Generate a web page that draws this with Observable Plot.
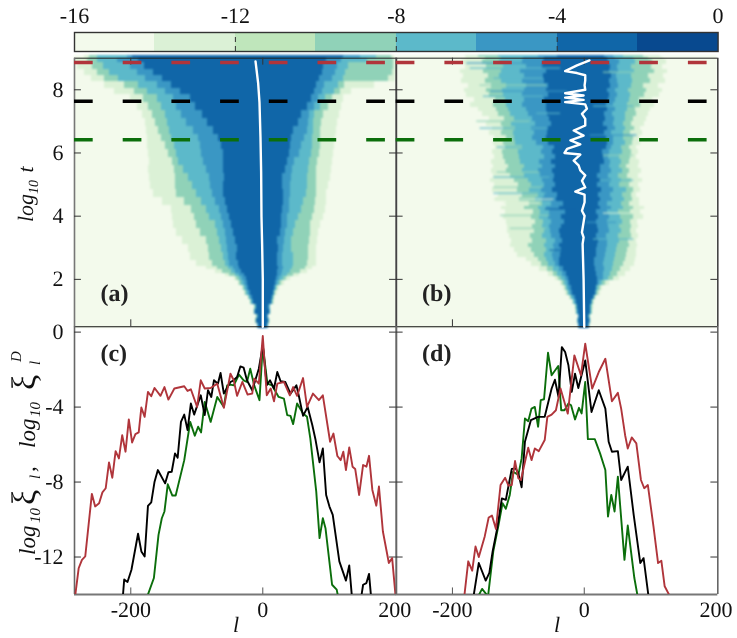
<!DOCTYPE html>
<html><head><meta charset="utf-8">
<script src="https://cdn.jsdelivr.net/npm/d3@7"></script>
<script src="https://cdn.jsdelivr.net/npm/@observablehq/plot@0.6"></script>
<style>
html,body{margin:0;padding:0;background:#fff}
#chart{position:relative;width:737px;height:638px;overflow:hidden;filter:blur(.3px)}
#chart svg{position:absolute;left:0;top:0;background:transparent!important;text-rendering:geometricPrecision}
</style></head><body><div id="chart"></div>
<script>
const FONT = "Liberation Serif";
const binEdges = [-16,-14,-12,-10,-8,-6,-4,-2,0];
const binColors = ["#f3faec","#dbf1d6","#bfe6bb","#90d2b8","#5cb9ca","#3a97c4","#1066a8","#08498f"];
const bandValues = [-13,-9,-7,-5,-3];
const barTicks = [-16,-12,-8,-4,0];
const logTTicks = [2,4,6,8];
const xiTicks = [0,-4,-8,-12];
const lTicks = [-200,0,200];
const cutTimes = [8.86,7.64,6.42];
const cutColors = ["#b0353b","#000000","#0b6e0b"];

// Panel (a): row start log t; edges at each band boundary, left then right, in l
const aLogT = [.44,.6,.75,.9,1.05,1.2,1.35,1.5,1.65,1.8,1.95,2.1,2.2,2.3,2.4,2.6,2.85,3.1,3.35,3.6,3.85,4.1,4.35,4.6,4.85,5.1,5.35,5.6,5.85,6.1,6.35,6.6,6.85,7.1,7.35,7.6,7.85,8.05,8.25,8.45,8.65,8.85,9.0,9.085];
const aEdges = [
[-8,-8,-8,-7,-7,7,7,8,8,8],[-11,-11,-10,-10,-9,9,9,10,10,11],[-9,-9,-8,-8,-7,7,8,8,9,9],
[-14,-13,-13,-12,-11,10,11,11,12,13],[-12,-12,-11,-10,-9,9,10,11,11,12],[-19,-18,-17,-16,-14,13,14,15,16,17],
[-22,-21,-20,-18,-16,14,15,16,17,18],[-27,-26,-24,-22,-19,16,17,18,20,22],[-31,-29,-27,-25,-21,17,19,21,23,26],
[-37,-35,-32,-28,-23,19,22,25,29,33],[-43,-40,-36,-31,-25,21,26,31,36,42],[-56,-50,-42,-36,-28,22,28,37,46,56],
[-72,-61,-47,-41,-32,23,30,42,57,68],[-85,-68,-52,-45,-35,24,31,45,64,76],[-101,-76,-57,-50,-37,23,30,47,68,81],
[-109,-80,-60,-52,-40,22,30,46,70,82],[-113,-82,-62,-53,-38,24,31,43,69,82],[-121,-85,-66,-55,-41,23,33,43,71,83],
[-130,-94,-68,-57,-45,27,35,46,72,84],[-136,-100,-71,-60,-47,29,38,49,73,87],[-137,-104,-80,-63,-50,29,38,54,76,92],
[-139,-108,-86,-66,-53,30,40,58,78,95],[-152,-118,-93,-71,-57,31,41,62,80,97],[-165,-130,-101,-76,-59,31,42,66,82,97],
[-170,-132,-106,-79,-60,30,42,67,82,100],[-171,-133,-112,-81,-58,30,43,67,82,103],[-173,-134,-120,-85,-59,34,45,69,82,104],
[-172,-137,-127,-90,-60,38,48,71,83,105],[-173,-143,-131,-93,-59,41,55,74,86,107],[-174,-148,-134,-95,-62,42,58,75,87,108],
[-174,-153,-139,-97,-67,44,63,76,87,110],[-176,-158,-141,-105,-74,47,67,77,88,111],[-178,-162,-144,-115,-84,54,69,77,89,113],
[-183,-167,-147,-123,-92,59,71,79,92,116],[-190,-173,-153,-130,-102,68,78,87,99,119],[-200,-180,-160,-136,-110,74,84,95,105,122],
[-225,-195,-175,-148,-125,78,90,108,118,135],[-240,-210,-188,-160,-138,81,93,114,124,170],[-259,-240,-218,-178,-152,86,106,122,190,201],
[-270,-250,-232,-190,-166,90,110,126,197,202],[-280,-258,-242,-200,-179,92,113,130,198,202],[-284,-266,-250,-220,-188,97,120,158,198,202],
[-270,-262,-250,-205,-198,123,148,173,195,200]];

// Panel (b)
const bLogT = [.44,.6,.75,.9,1.05,1.2,1.35,1.5,1.65,1.8,1.95,2.1,2.25,2.4,2.55,2.7,2.85,3.0,3.15,3.3,3.45,3.6,3.75,3.9,4.05,4.2,4.3,4.45,4.6,4.75,4.9,5.05,5.2,5.35,5.5,5.65,5.8,5.95,6.1,6.25,6.4,6.55,6.7,6.85,7.0,7.15,7.3,7.45,7.6,7.75,7.9,8.05,8.2,8.35,8.5,8.65,8.8,8.95,9.03,9.085];
const bEdges = [
[-9,-9,-8,-8,-7,7,8,8,8,9],[-11,-10,-10,-9,-8,8,9,10,10,11],[-9,-9,-8,-8,-7,7,8,8,9,9],
[-13,-12,-12,-11,-9,9,10,11,12,13],[-14,-13,-12,-11,-10,10,10,11,12,14],[-18,-17,-16,-14,-12,11,12,13,14,16],
[-22,-21,-19,-17,-14,14,15,16,17,19],[-28,-26,-24,-21,-18,17,18,19,21,24],[-31,-29,-27,-24,-20,18,19,21,24,28],
[-36,-33,-30,-26,-22,20,23,28,32,38],[-44,-39,-34,-29,-24,20,29,37,45,53],[-55,-47,-40,-33,-27,18,29,40,50,62],
[-68,-56,-46,-38,-32,17,30,43,55,70],[-80,-65,-54,-44,-37,16,29,45,59,76],[-88,-69,-58,-47,-38,16,30,46,62,78],
[-101,-76,-60,-48,-36,18,32,47,64,79],[-106,-80,-57,-45,-34,19,33,49,66,80],[-112,-84,-61,-47,-37,20,35,50,68,81],
[-110,-79,-58,-44,-33,21,36,54,67,80],[-113,-82,-63,-50,-36,18,34,52,71,82],[-117,-76,-60,-51,-38,22,38,56,70,80],
[-116,-79,-64,-53,-35,20,37,54,72,83],[-118,-74,-62,-50,-30,19,36,58,70,81],[-123,-80,-68,-55,-34,21,38,55,74,90],
[-120,-77,-66,-52,-29,18,35,52,70,86],[-126,-90,-70,-58,-38,24,41,60,74,92],[-118,-83,-64,-50,-31,21,36,56,68,84],
[-134,-98,-74,-63,-42,24,43,61,73,84],[-130,-94,-70,-60,-40,22,40,58,71,80],[-139,-102,-83,-65,-48,26,45,64,75,85],
[-136,-100,-80,-60,-44,20,38,54,68,83],[-142,-106,-85,-64,-47,24,41,57,72,88],[-138,-112,-90,-66,-45,20,37,52,66,82],
[-141,-118,-94,-69,-48,25,42,58,68,87],[-137,-115,-90,-64,-44,24,38,53,64,82],[-140,-120,-96,-68,-49,30,40,57,69,84],
[-136,-122,-98,-60,-44,29,37,54,70,79],[-139,-124,-100,-65,-48,28,39,58,72,83],[-135,-120,-94,-62,-45,33,41,56,69,80],
[-138,-123,-104,-72,-55,36,45,62,73,85],[-136,-118,-106,-78,-58,34,44,60,74,84],[-143,-125,-108,-76,-56,31,42,59,70,88],
[-139,-122,-104,-80,-54,36,47,63,76,86],[-148,-126,-110,-74,-50,29,44,60,72,92],[-144,-121,-106,-78,-53,32,46,62,74,95],
[-155,-130,-112,-84,-56,30,43,63,80,97],[-160,-133,-115,-88,-58,35,47,65,78,100],[-172,-138,-118,-93,-57,33,44,66,86,106],
[-166,-135,-120,-90,-60,37,48,68,84,103],[-178,-144,-122,-94,-55,38,50,70,92,114],[-182,-148,-124,-90,-58,36,48,67,95,118],
[-175,-140,-118,-88,-54,40,52,72,90,112],[-186,-150,-126,-94,-60,39,50,73,100,124],[-183,-146,-128,-90,-62,41,49,71,98,120],
[-188,-153,-125,-96,-58,38,52,76,106,127],[-180,-148,-122,-88,-63,40,50,72,102,118],[-184,-154,-128,-93,-62,37,54,78,104,125],
[-178,-150,-125,-92,-60,36,48,74,98,120],[-180,-160,-130,-70,-40,30,44,60,90,115]];

// Panel (b): thin streaks seen across the rows
const streakT = [8.83,8.67,8.54,8.35,8.13,7.94,7.78,7.47,7.24,6.99,6.77,6.55,6.17,5.91,5.38,5.22,5.12,4.90,4.71,4.52,4.40,4.21,4.08,4.01,3.79,3.6,3.26,2.91];
const streakL1 = [-178,-173,29,-137,-158,-142,-153,14,-72,-163,-158,9,-132,29,-132,-137,24,-137,-137,-137,-122,-59,29,-127,4,-112,14,-52];
const streakL2 = [-62,-36,95,-62,-57,-26,-62,75,-36,-82,-57,80,-62,75,-67,-52,75,-62,-57,-46,-67,-11,80,-52,49,-57,75,-11];
const streakV = [-5,-7,-9,-7,-9,-5,-7,-7,-7,-9,-7,-5,-7,-9,-9,-7,-7,-9,-7,-13,-13,-3,-13,-9,-5,-9,-7,-3];

// White mean-position curves
const aMeanT = [.5,2,3.1,4,5.4,6.5,7.6,8.2,8.9];
const aMeanL = [0,0,-1,-2,-2.5,-3.5,-5,-7,-11];
const bMeanT = [.5,2,3.12,3.33,3.49,4.01,4.17,4.44,4.68,4.78,4.91,5.12,5.29,5.45,5.61,5.76,5.95,6.0,6.13,6.27,6.40,6.55,6.71,6.87,7.08,7.24,7.40,7.54,7.61,7.68,7.75,7.82,7.89,8.0,8.14,8.30,8.46,8.53,8.59,8.77,8.93];
const bMeanL = [0,-1,-2.5,-1,-3.5,.5,-3.5,.5,.5,-13.6,1.5,-3.5,1.5,-6,-8.6,-16,-6,-30,-26,-6,-21,-1,-16,1.5,1.5,-3.5,4,1.5,-29,-1,-29,-1,-29,1.5,.5,1.5,1.5,-11,-29,-11,8];

// Panel (c)
const cRedL = [-284,-279,-274,-269,-264,-259,-254,-248,-243,-238,-233,-228,-223,-218,-213,-208,-203,-198,-193,-188,-184,-179,-174,-169,-164,-155,-149,-143,-134,-119,-114,-109,-99.5,-94,-88,-79,-69,-59,-49,-44,-39,-31,-23,-16,-13,-6,0,6,12,17,22,32,41,46,52,61,67,76,85,91,102,107,113,118,122,126,131,136,140,146,152,157,161,166,172,176,182,191,196,201];
const cRedV = [-14,-12.6,-12.15,-11.97,-10.3,-8.63,-9.3,-9.13,-8.55,-8.33,-6.95,-7.77,-6.35,-6.74,-5.5,-6.38,-4.66,-5.89,-5.44,-5.35,-4.02,-4.52,-3.19,-3.42,-2.98,-3.4,-2.93,-3.6,-3.01,-2.89,-3.14,-3.05,-3.99,-2.57,-3.01,-2.98,-2.75,-4.04,-2.22,-2.57,-3.4,-2.66,-3.33,-3.28,-2.48,-2.75,-.21,-3.37,-3.01,-3.69,-2.75,-2.66,-3.37,-2.93,-3.4,-2.45,-3.99,-3.28,-3.63,-3.37,-5.85,-5.41,-6.61,-6.83,-6.38,-7.36,-6.15,-7.18,-7.3,-8.69,-7.09,-7.18,-6.6,-8.42,-9.26,-8.24,-10.64,-12.32,-12.06,-14];
const cBlackL = [-212,-210,-205,-199,-189,-184,-179,-174,-169,-164,-159,-148,-143,-138,-133,-129,-124,-119,-114,-109,-104,-94,-88,-83,-78,-74,-68,-64,-59,-49,-44,-39,-34,-29,-24,-16,-6,0,6,11,17,22,27,34,42,51,55,61,68,75,80,86,91,96,101,106,111,116,126,131,135,139,148,152,157,161,164];
const cBlackV = [-14.1,-13.2,-13.33,-12.68,-10.76,-11.7,-11.97,-9.27,-9.08,-7.98,-7.36,-8.07,-7.48,-7.45,-6.47,-6.7,-4.79,-4.4,-5.23,-3.81,-4.4,-3.37,-4.43,-3.1,-3.46,-2.57,-2.75,-2.18,-3.28,-2.66,-2.57,-2.39,-1.83,-1.9,-2.57,-3.1,-1.95,-.71,-2.84,-2.57,-3.01,-2.13,-2.62,-2.66,-3.28,-2.84,-3.46,-4.47,-3.99,-4.96,-5.76,-6.95,-6.21,-8.69,-9.31,-9.75,-10.99,-12.23,-13.26,-12.45,-14.1,-14.4,-14.4,-13.48,-13.39,-12.9,-14.1];
const cGreenL = [-175,-165,-158,-153,-149,-144,-137,-132,-119,-110,-103,-98,-93.5,-88,-79,-69,-59,-54,-49,-44,-36,-29,-24,-19,-13,-5,0,7,14,24,32,37,42,46,52,61,67,72,81,86,91,95,105,112,114];
const cGreenV = [-14.1,-13.12,-10.82,-9.93,-9.57,-8.12,-8.72,-8.72,-6.83,-4.79,-5.53,-5.05,-5.35,-3.72,-4.79,-3.46,-3.99,-2.84,-2.8,-2.84,-2.27,-2.57,-2.66,-1.95,-2.84,-3.63,-.71,-2.75,-2.84,-3.46,-3.55,-4.43,-4.47,-4.91,-3.81,-4.34,-4.52,-5.67,-8.51,-10.99,-9.93,-10.46,-13.48,-13.74,-14.1];

// Panel (d)
const dRedL = [-182,-176,-170,-165,-160,-151,-145,-140,-134,-127,-120,-115,-110,-105,-100,-96,-91,-85,-80,-75,-69,-60,-56,-49.5,-43,-36,-25,-15,-5,1.5,12,22,32,42,51,56,62,66,72,79,86,91,96.5,105,112,117,122,130];
const dRedV = [-14.1,-12.23,-12.73,-11.44,-12,-10.9,-9.89,-9.79,-10.5,-8.16,-7.77,-8.19,-8.16,-6.88,-7.8,-7.89,-7.09,-6.17,-6.83,-6.21,-6.35,-5.76,-4.52,-4.4,-4.17,-3.01,-4.35,-1.24,-2.3,-.62,-3.01,-2.13,-1.42,-3.69,-3.24,-4.08,-5.5,-6.21,-5.62,-5.94,-7.89,-8.33,-8.16,-10.37,-12.32,-12.2,-13.56,-14.1];
const dBlackL = [-168,-160,-149.5,-144,-139,-132,-125,-119,-110,-104,-100,-95,-90,-81,-70,-60,-49.5,-44.5,-39,-34,-29,-24,-19,-14,-9,1.5,11,22,32,37,42,51,56,66,75,85,90,97.5];
const dBlackV = [-14.1,-12.32,-13.26,-12.85,-11.7,-10.46,-8.87,-8.95,-7.3,-7.27,-7.54,-8.28,-5.85,-4.7,-4.52,-4.52,-3.01,-2.54,-3.46,-.8,-1.06,-1.77,-3.19,-2.22,-2.98,-1.51,-4.26,-3.1,-4.08,-5.85,-6.38,-6.35,-7.89,-7.18,-9.75,-12.32,-12.06,-14.1];
const dGreenL = [-161,-155,-146,-138,-130,-124,-119,-113,-108,-100,-95,-90,-85,-80,-75,-70,-66,-61,-55,-49.5,-39.5,-35,-30,-24,-20,-14,-8,-4,1.5,5.5,16,24,32,36,41,46,51,61,66,76,81];
const dGreenV = [-14.1,-13.7,-14.1,-11.7,-10.28,-9.13,-9.43,-8.69,-7.45,-7.62,-6.74,-4.61,-4.75,-4.08,-3.99,-5.05,-3.63,-3.58,-1.1,-2.3,-1.81,-4.17,-4.17,-3.81,-3.9,-4.66,-4.04,-4.34,-2.66,-5.71,-5.71,-6.47,-7.36,-9.84,-8.69,-9.57,-7.71,-12.15,-10.32,-13.12,-14.1];

const W = 737, H = 638;
const lDomain = [-285.3, 202.6];
const heatT = [.445, 9.085];
const pair = (xs, ys) => xs.map((x, i) => [x, ys[i]]);
const colorScale = {type:"threshold", domain: binEdges.slice(1,-1), range: binColors};
const base = (box, xDomain, yDomain, marks) => Plot.plot({
  width: W, height: H,
  marginLeft: box.l, marginRight: W - box.r, marginTop: box.t, marginBottom: H - box.b,
  x: {domain: xDomain, axis: null}, y: {domain: yDomain, axis: null},
  color: colorScale,
  style: {background: "transparent", fontFamily: FONT, color: "#111"},
  marks
});

function cellsFrom(logT, edges) {
  const cells = [];
  edges.forEach((row, i) => {
    cells.push({x1: lDomain[0], x2: lDomain[1], y1: logT[i], y2: logT[i+1], v: -15});
    bandValues.forEach((v, k) => cells.push({x1: row[k], x2: row[9-k], y1: logT[i], y2: logT[i+1], v}));
  });
  return cells;
}

function heatCells(box, cells, streaks) {
  const node = base(box, lDomain, heatT, [
    Plot.rect(cells, {x1:"x1", x2:"x2", y1:"y1", y2:"y2", fill:"v", shapeRendering:"crispEdges"}),
    Plot.rect(streaks, {x1:"x1", x2:"x2", y1:"y1", y2:"y2", fill:"v", fillOpacity:.6})
  ]);
  node.style.filter = "blur(1.1px)";
  return node;
}

function heat(box, meanT, meanL, yLabels, tag, frameColor) {
  const [x0, x1] = lDomain;
  const tx = 10.5, ty = .22;
  return base(box, lDomain, heatT, [
    Plot.ruleY([9], {x1:x0, x2:x1, stroke:"#222", strokeWidth:1}),
    Plot.ruleY([.5], {x1:x0, x2:x1, stroke:"#111", strokeWidth:1.2}),
    Plot.ruleX([x0,x1], {y1:.5, y2:9, stroke:frameColor, strokeWidth:1.6}),
    Plot.ruleY(logTTicks, {x1:x0, x2:x0+tx, stroke:"#333", strokeWidth:1}),
    Plot.ruleY(logTTicks, {x1:x1-tx, x2:x1, stroke:"#333", strokeWidth:1}),
    Plot.ruleX(lTicks.slice(0,2), {y1:.5, y2:.5+ty, stroke:"#333", strokeWidth:1}),
    Plot.ruleX(lTicks.slice(0,2), {y1:9-ty, y2:9, stroke:"#333", strokeWidth:1}),
    Plot.line(pair(meanL, meanT), {stroke:"#fff", strokeWidth:2.4, curve:"linear"}),
    ...cutTimes.map((t, i) => Plot.ruleY([t], {x1:x0, x2:x1, stroke:cutColors[i], strokeWidth:3.5, strokeDasharray:"18.7,30"})),
    ...(yLabels ? [Plot.axisY(yLabels, {anchor:"left", tickSize:0, tickPadding:11, fontSize:22, label:null, tickFormat:d=>String(d), fill:"#111"})] : []),
    Plot.text([tag], {x:-246, y:1.3, text:d=>d, textAnchor:"start", fontSize:24, fontWeight:"bold", fill:"#222", lineAnchor:"bottom"})
  ]);
}

function lower(box, series, yLabels, tag) {
  const [x0, x1] = lDomain;
  return base(box, lDomain, [-14, .3], [
    Plot.ruleY([-14], {x1:x0, x2:x1, stroke:"#777", strokeWidth:2}),
    Plot.ruleX([x0,x1], {y1:-14, y2:.3, stroke:"#666", strokeWidth:1.6}),
    Plot.ruleY(xiTicks, {x1:x0, x2:x0+10.5, stroke:"#333", strokeWidth:1}),
    Plot.ruleY(xiTicks, {x1:x1-10.5, x2:x1, stroke:"#333", strokeWidth:1}),
    Plot.ruleX(lTicks.slice(0,2), {y1:-14, y2:-13.65, stroke:"#555", strokeWidth:1}),
    ...series.map(([xs, ys, color]) => Plot.line(pair(xs, ys), {stroke:color, strokeWidth:1.9, clip:true, curve:"linear"})),
    Plot.axisX(lTicks, {anchor:"bottom", tickSize:0, tickPadding:7, fontSize:22, label:null, tickFormat:d=>String(d), fill:"#111"}),
    ...(yLabels ? [Plot.axisY(yLabels, {anchor:"left", tickSize:0, tickPadding:11, fontSize:22, label:null, tickFormat:d=>String(d), fill:"#111"})] : []),
    Plot.text([tag], {x:-246, y:-1.55, text:d=>d, textAnchor:"start", fontSize:24, fontWeight:"bold", fill:"#222", lineAnchor:"bottom"})
  ]);
}

const chart = document.getElementById("chart");
const boxA = {l:74, r:396, t:55, b:328}, boxB = {l:395.7, r:717.3, t:55, b:328};
const boxC = {l:74, r:396, t:326, b:594}, boxD = {l:395.7, r:717.3, t:326, b:594};

// colour bar
const barCells = binColors.map((c, i) => ({x1: binEdges[i], x2: binEdges[i+1], v: binEdges[i] + 1}));
chart.append(Plot.plot({
  width: W, height: H, marginLeft: 74, marginRight: W - 717.6, marginTop: 32, marginBottom: H - 51,
  x: {domain: [-16, 0], axis: null}, y: {domain: [0, 1], axis: null},
  color: colorScale,
  style: {background: "transparent", fontFamily: FONT, color: "#111"},
  marks: [
    Plot.rect(barCells, {x1:"x1", x2:"x2", y1:0, y2:1, fill:"v", shapeRendering:"crispEdges"}),
    Plot.ruleX(barTicks.slice(1,-1), {y1:0, y2:1, stroke:"#333", strokeWidth:1, strokeDasharray:"5,4"}),
    Plot.frame({stroke:"#333", strokeWidth:1.4}),
    Plot.axisX(barTicks, {anchor:"top", tickSize:0, tickPadding:10, fontSize:22, label:null, tickFormat:d=>String(d), fill:"#111"})
  ]
}));

const streakCells = streakT.map((t, i) => ({x1: streakL1[i], x2: streakL2[i], y1: t - .03, y2: t + .03, v: streakV[i]}));
chart.append(heatCells(boxA, cellsFrom(aLogT, aEdges), []));
chart.append(heatCells(boxB, cellsFrom(bLogT, bEdges), streakCells));
chart.append(heat(boxA, aMeanT, aMeanL, logTTicks, "(a)", "#777"));
chart.append(heat(boxB, bMeanT, bMeanL, null, "(b)", "#444"));
chart.append(lower(boxC, [[cGreenL,cGreenV,cutColors[2]],[cBlackL,cBlackV,cutColors[1]],[cRedL,cRedV,cutColors[0]]], xiTicks, "(c)"));
chart.append(lower(boxD, [[dGreenL,dGreenV,cutColors[2]],[dBlackL,dBlackV,cutColors[1]],[dRedL,dRedV,cutColors[0]]], null, "(d)"));

// rotated and subscripted axis titles
const overlay = document.createElement("div");
overlay.innerHTML = `<svg width="737" height="638" font-family="${FONT}" fill="#111" style="text-rendering:geometricPrecision">
<text transform="translate(33,222) rotate(-90)" font-size="22" font-style="italic">log<tspan font-size="14" dy="5">10</tspan><tspan dy="-5" x="44"> t</tspan></text>
<text transform="translate(35,555) rotate(-90)" font-size="23" font-style="italic">log<tspan font-size="15" dy="5" x="32">10</tspan><tspan font-size="34" font-style="normal" dy="-5" x="50">ξ</tspan><tspan font-size="15" dy="5" x="76">l</tspan><tspan dy="-5" x="83">,</tspan><tspan x="107">log</tspan><tspan font-size="15" dy="5" x="138">10</tspan><tspan font-size="34" font-style="normal" dy="-5" x="165">ξ</tspan><tspan font-size="15" dy="5" x="190">l</tspan><tspan font-size="15" dy="-19" x="193">D</tspan></text>
<text x="233" y="632" font-size="22" font-style="italic">l</text>
<text x="554" y="632" font-size="22" font-style="italic">l</text>
</svg>`;
chart.append(overlay);
</script></body></html>
